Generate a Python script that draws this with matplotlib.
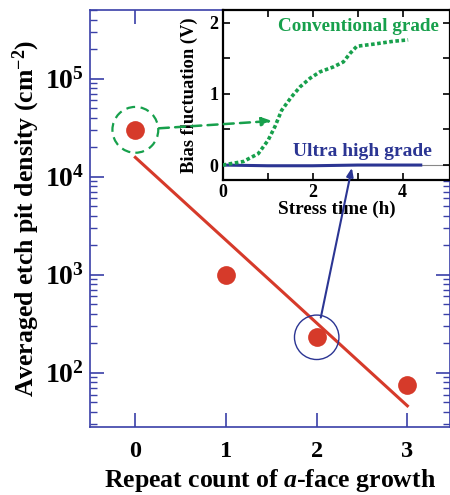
import matplotlib
matplotlib.use("Agg")
import matplotlib.pyplot as plt
from matplotlib.patches import ConnectionPatch
from matplotlib.ticker import FixedLocator, NullFormatter, LogLocator
import numpy as np

plt.rcParams['font.family'] = ['Liberation Serif', 'DejaVu Serif']
plt.rcParams['font.weight'] = 'bold'
plt.rcParams['mathtext.fontset'] = 'custom'
plt.rcParams['mathtext.rm'] = 'Liberation Serif:bold'
plt.rcParams['mathtext.bf'] = 'Liberation Serif:bold'
plt.rcParams['mathtext.it'] = 'Liberation Serif:bold:italic'

# ---- data ----
repeat_count = [0, 1, 2, 3]
etch_pit_density = [3.0e4, 1.0e3, 2.3e2, 75]
fit_x = [0, 3]
fit_y = [1.57e4, 46]

conv_time = [0, 0.46, 0.79, 1.01, 1.16, 1.31, 1.53, 1.72, 1.94, 2.16, 2.46, 2.68, 2.83, 2.98, 3.35, 3.79, 4.12]
conv_bias = [0, 0.05, 0.16, 0.35, 0.54, 0.77, 0.96, 1.10, 1.22, 1.31, 1.38, 1.45, 1.57, 1.67, 1.70, 1.74, 1.76]
ultra_time = [0, 1.0, 2.0, 3.0, 4.4]
ultra_bias = [0, -0.01, -0.01, 0.0, 0.0]

main_xticks = [0, 1, 2, 3]
inset_xticks = [0, 2, 4]
inset_yticks = [0, 1, 2]

RED = '#d63a2a'
GREEN = '#17a04c'
BLUE = '#2b3593'
AXBLUE = '#3a40a8'

fig = plt.figure(figsize=(4.5, 4.95), dpi=100)
ax = fig.add_axes([0.2, 0.1374, 0.8, 0.8424])
ax.set_yscale('log')
ax.set_xlim(-0.5, 3.47)
ax.set_ylim(28, 5e5)

ax.plot(fit_x, fit_y, color=RED, lw=2.2, zorder=3)
ax.plot(repeat_count, etch_pit_density, 'o', color=RED, ms=13.5, zorder=4, mec='none')
# highlight circles
ax.scatter([repeat_count[0]], [etch_pit_density[0]], s=33**2, facecolors='none',
           edgecolors=GREEN, linewidths=1.6, linestyles=(0, (4, 2.5)), zorder=5)
ax.scatter([repeat_count[2]], [etch_pit_density[2]], s=32**2, facecolors='none',
           edgecolors=BLUE, linewidths=1.0, zorder=5)

for sp in ax.spines.values():
    sp.set_color(AXBLUE)
    sp.set_linewidth(1.2)
ax.xaxis.set_major_locator(FixedLocator(main_xticks))
ax.set_xticklabels([str(t) for t in main_xticks])
ax.yaxis.set_minor_locator(LogLocator(base=10, subs=np.arange(2, 10), numticks=20))
ax.yaxis.set_minor_formatter(NullFormatter())
ax.set_yticks([1e2, 1e3, 1e4, 1e5])
ax.set_yticklabels([r'$\mathbf{10^{2}}$', r'$\mathbf{10^{3}}$', r'$\mathbf{10^{4}}$', r'$\mathbf{10^{5}}$'])
ax.tick_params(which='both', direction='in', top=True, right=True, color=AXBLUE)
ax.tick_params(which='major', length=10, width=1.2)
ax.tick_params(which='minor', length=5, width=1.0)
ax.tick_params(axis='x', labelsize=17.5, pad=10)
ax.tick_params(axis='y', labelsize=20, pad=4)
for lab in ax.get_xticklabels() + ax.get_yticklabels():
    lab.set_fontweight('bold')
ax.set_xlabel(r'Repeat count of $\mathit{a}$-face growth', fontsize=18.5, fontweight='bold', labelpad=3.5)
ax.set_ylabel(r'Averaged etch pit density (cm$^{-2}$)', fontsize=18.5, fontweight='bold', labelpad=2)

# ---- inset ----
ins = fig.add_axes([0.4949, 0.6364, 0.5051, 0.3434])
ins.set_xlim(0, 5.05)
ins.set_ylim(-0.21, 2.18)
ins.axhline(0, color='#888888', lw=0.8, zorder=1)
ins.plot(ultra_time, ultra_bias, color=BLUE, lw=2.2, zorder=3)
ins.plot(conv_time, conv_bias, color=GREEN, lw=2.6, linestyle=(0, (1, 0.7)), zorder=3)
for sp in ins.spines.values():
    sp.set_color('black')
    sp.set_linewidth(1.6)
ins.set_xticks([0, 1, 2, 3, 4])
ins.set_xticklabels(['0', '', '2', '', '4'])
ins.set_yticks([0, 0.5, 1, 1.5, 2])
ins.set_yticklabels(['0', '', '1', '', '2'])
ins.tick_params(which='both', direction='in', top=True, right=True, length=5, width=1.2,
                labelsize=13, pad=3)
for lab in ins.get_xticklabels() + ins.get_yticklabels():
    lab.set_fontweight('bold')
ins.set_xlabel('Stress time (h)', fontsize=13.8, fontweight='bold', labelpad=0)
ins.set_ylabel('Bias fluctuation (V)', fontsize=13.3, fontweight='bold', labelpad=8)
ins.text(0.245, 0.905, 'Conventional grade', transform=ins.transAxes, color=GREEN,
         fontsize=13.8, fontweight='bold', va='center', ha='left')
ins.text(0.31, 0.165, 'Ultra high grade', transform=ins.transAxes, color=BLUE,
         fontsize=14, fontweight='bold', va='center', ha='left')

# ---- connecting arrows ----
con1 = ConnectionPatch(xyA=(repeat_count[0], etch_pit_density[0]), coordsA=ax.transData,
                       xyB=(1.1, 0.62), coordsB=ins.transData,
                       arrowstyle='-|>,head_length=0.6,head_width=0.25', color=GREEN,
                       lw=1.8, linestyle=(0, (4, 2.5)), shrinkA=17, shrinkB=0, zorder=10)
fig.add_artist(con1)
con2 = ConnectionPatch(xyA=(repeat_count[2], etch_pit_density[2]), coordsA=ax.transData,
                       xyB=(2.87, -0.04), coordsB=ins.transData,
                       arrowstyle='-|>,head_length=0.5,head_width=0.2', color=BLUE,
                       lw=1.5, shrinkA=14.5, shrinkB=0, zorder=10)
fig.add_artist(con2)

fig.savefig('out.png', dpi=100)
